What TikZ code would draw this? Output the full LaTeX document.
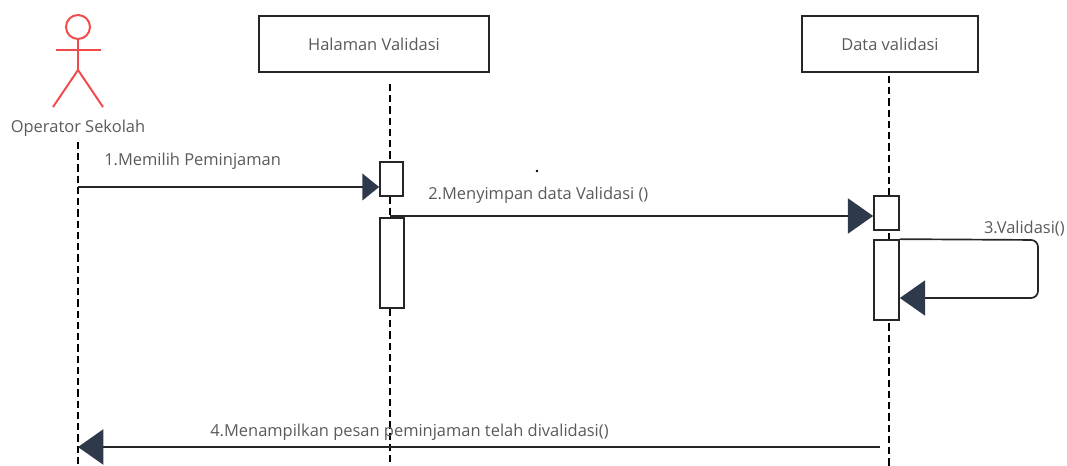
\documentclass[tikz,border=0pt]{standalone}
\usepackage{fontspec}
\setmainfont{Open Sans}
\usetikzlibrary{arrows.meta}
\definecolor{tipcol}{HTML}{2E3A4C}
\definecolor{actorred}{HTML}{F24A4A}
\definecolor{txtgray}{HTML}{5A5A5A}
\begin{document}
\begin{tikzpicture}[x=0.025cm,y=-0.025cm,
  objbox/.style={draw=black!85, line width=1.3pt, fill=white, text=txtgray, font=\fontsize{11.7}{13}\selectfont, inner sep=0pt},
  actbox/.style={draw=black!85, line width=1.2pt, fill=white, minimum width=0.6cm, inner sep=0pt},
  life/.style={draw=black, line width=1.2pt, dash pattern=on 5pt off 3pt},
  msgline/.style={draw=black!85, line width=1.2pt, -{Triangle[length=18pt,width=25pt,fill=tipcol,color=tipcol]}},
  msgsmall/.style={draw=black!85, line width=1.2pt, -{Triangle[length=12pt,width=19pt,fill=tipcol,color=tipcol]}},
  lbl/.style={text=txtgray, font=\fontsize{11.7}{13}\selectfont, inner sep=0pt}
]
\useasboundingbox (0,0) rectangle (1067,466);
% actor
\begin{scope}[line width=1.4pt]
  \draw[actorred] (78,27) circle (12);
  \draw[actorred] (78,39) -- (78,70);
  \draw[actorred] (56,50) -- (101,50);
  \draw[actorred] (53,107) -- (78,70) -- (103,107);
\end{scope}
\node[lbl] (actorlbl) at (78,128) {Operator Sekolah};
% object boxes
\node[objbox, minimum width=5.75cm, minimum height=1.4cm] (box1) at (374,44) {Halaman Validasi};
\node[objbox, minimum width=4.4cm, minimum height=1.4cm] (box2) at (890,44) {Data validasi};
% lifeline coordinates
\coordinate (l0top) at (78,142);
\coordinate (l0bot) at (78,466);
\coordinate (l1top) at (390,84);
\coordinate (l1bot) at (390,466);
\coordinate (l2top) at (889,76);
\coordinate (l2bot) at (889,466);
\draw[life] (l0top) -- (l0bot);
\draw[life] (l1top) -- (l1bot);
\draw[life] (l2top) -- (l2bot);
% activations
\node[actbox, minimum width=0.575cm, minimum height=0.85cm] (a1) at (391.5,179) {};
\node[actbox, minimum height=2.25cm] (a2) at (392,263) {};
\node[actbox, minimum width=0.625cm, minimum height=0.85cm] (a3) at (886.5,213) {};
\node[actbox, minimum width=0.625cm, minimum height=2cm] (a4) at (886.5,280) {};
% stray dot
\fill[black] (537,171) circle (1.3);
% message 1
\coordinate (m1s) at (78,187);
\draw[msgsmall] (m1s) -- (m1s -| a1.west);
\node[lbl, anchor=west] (lbl1) at (104,161) {1.Memilih Peminjaman};
% message 2
\coordinate (m2s) at (390,216);
\draw[msgline] (m2s) -- (m2s -| a3.west);
\node[lbl, anchor=west] (lbl2) at (428,195) {2.Menyimpan data Validasi ()};
% message 3 (self)
\coordinate (m3a) at (1038,240);
\coordinate (m3b) at (1038,298);
\draw[msgline, rounded corners=5pt] (a4.north east) -- (m3a) -- (m3b) -- (m3b -| a4.east);
\node[lbl, anchor=east] (lbl3) at (1065,229) {3.Validasi()};
% message 4
\coordinate (m4s) at (880,447);
\draw[msgline] (m4s) -- (m4s -| l0top);
\node[lbl, anchor=west] (lbl4) at (210,432) {4.Menampilkan pesan peminjaman telah divalidasi()};
\end{tikzpicture}
\end{document}
